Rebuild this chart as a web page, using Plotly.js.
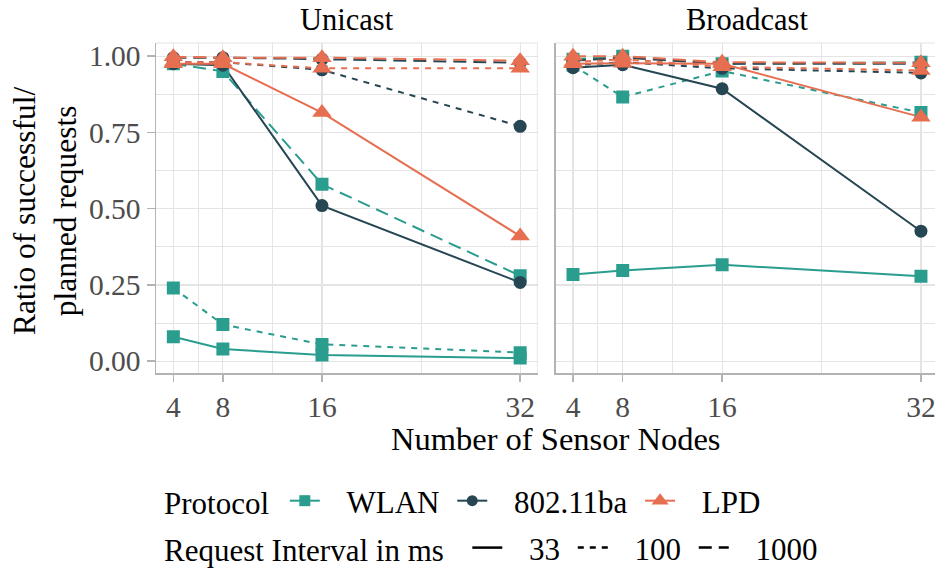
<!DOCTYPE html>
<html>
<head>
<meta charset="utf-8">
<script src="https://cdn.plot.ly/plotly-3.0.1.min.js"></script>
<style>html,body{margin:0;padding:0;background:#fff;}#chart{width:935px;height:575px;}</style>
</head>
<body>
<div id="chart"></div>
<script>
// ---- data ----
const nodes = [4, 8, 16, 32];
const xTickVals = [4, 8, 16, 32];
const yTickVals = [0, 0.25, 0.5, 0.75, 1.0];
const panels = ['Unicast', 'Broadcast'];
const protocols = ['WLAN', '802.11ba', 'LPD'];
const intervals = ['33', '100', '1000'];

// Unicast
const uniWLAN33    = [0.08, 0.04, 0.02, 0.01];
const uniWLAN100   = [0.24, 0.12, 0.055, 0.028];
const uniWLAN1000  = [0.975, 0.95, 0.58, 0.28];
const uni80233     = [0.975, 0.97, 0.51, 0.258];
const uni802100    = [0.98, 0.98, 0.955, 0.77];
const uni8021000   = [0.995, 0.995, 0.99, 0.978];
const uniLPD33     = [0.975, 0.975, 0.815, 0.41];
const uniLPD100    = [0.98, 0.98, 0.96, 0.96];
const uniLPD1000   = [0.998, 0.995, 0.995, 0.985];
// Broadcast
const bcWLAN33     = [0.284, 0.297, 0.316, 0.278];
const bcWLAN100    = [0.97, 0.866, 0.951, 0.815];
const bcWLAN1000   = [0.99, 1.0, 0.975, 0.98];
const bc80233      = [0.962, 0.972, 0.893, 0.426];
const bc802100     = [0.97, 0.98, 0.96, 0.945];
const bc8021000    = [0.985, 0.995, 0.975, 0.975];
const bcLPD33      = [0.975, 0.977, 0.975, 0.80];
const bcLPD100     = [0.98, 0.99, 0.965, 0.953];
const bcLPD1000    = [1.0, 1.0, 0.98, 0.978];

const seriesTable = {
  Unicast: {
    'WLAN': {'33': uniWLAN33, '100': uniWLAN100, '1000': uniWLAN1000},
    '802.11ba': {'33': uni80233, '100': uni802100, '1000': uni8021000},
    'LPD': {'33': uniLPD33, '100': uniLPD100, '1000': uniLPD1000}
  },
  Broadcast: {
    'WLAN': {'33': bcWLAN33, '100': bcWLAN100, '1000': bcWLAN1000},
    '802.11ba': {'33': bc80233, '100': bc802100, '1000': bc8021000},
    'LPD': {'33': bcLPD33, '100': bcLPD100, '1000': bcLPD1000}
  }
};

// ---- styles ----
const colors = {'WLAN': '#2A9D8F', '802.11ba': '#264653', 'LPD': '#E76F51'};
const symbols = {'WLAN': 'square', '802.11ba': 'circle', 'LPD': 'triangle-up'};
const msize = {'WLAN': 13, '802.11ba': 13, 'LPD': 17};
const dashes = {'33': 'solid', '100': '6px,6px', '1000': '13px,7px'};
const axisRef = {Unicast: ['x', 'y'], Broadcast: ['x2', 'y2']};
const LEAD = '\u00a0\u00a0\u2009';
const TRAIL = '\u00a0';

const FONT = 'Liberation Serif, Times New Roman, serif';
const traces = [];
// lines first
panels.forEach(p => protocols.forEach(pr => intervals.forEach(iv => {
  traces.push({
    x: nodes, y: seriesTable[p][pr][iv], xaxis: axisRef[p][0], yaxis: axisRef[p][1],
    mode: 'lines', type: 'scatter', showlegend: false, hoverinfo: 'skip',
    line: {color: colors[pr], width: 2, dash: dashes[iv]}
  });
})));
// then points
panels.forEach(p => protocols.forEach(pr => intervals.forEach(iv => {
  traces.push({
    x: nodes, y: seriesTable[p][pr][iv], xaxis: axisRef[p][0], yaxis: axisRef[p][1],
    mode: 'markers', type: 'scatter', showlegend: false,
    marker: {color: colors[pr], symbol: symbols[pr], size: msize[pr], line: {width: 0}}
  });
})));
// legend entries
protocols.forEach(pr => traces.push({
  x: [null], y: [null], mode: 'lines+markers', type: 'scatter', name: LEAD + pr + TRAIL, legend: 'legend',
  line: {color: colors[pr], width: 2}, marker: {color: colors[pr], symbol: symbols[pr], size: msize[pr] - 2}
}));
intervals.forEach(iv => traces.push({
  x: [null], y: [null], mode: 'lines', type: 'scatter', name: LEAD + iv + TRAIL, legend: 'legend2',
  line: {color: '#000000', width: 2.5, dash: dashes[iv]}
}));

const W = 935, H = 575;
const px = v => v / W, py = v => (H - v) / H;
const yDomain = [py(382), py(44)];
const yRange = [-0.040, 1.043];

const gridCol = '#e4e4e4';
const axLineCol = '#b3b3b3';
const TICKFONT = {family: FONT, size: 29.5, color: '#4d4d4d'};
function xAxis(domain, range) {
  return {
    domain: domain, range: range, tickmode: 'array', tickvals: xTickVals,
    showgrid: true, gridcolor: gridCol, gridwidth: 1.2, zeroline: false,
    showline: true, linecolor: axLineCol, linewidth: 1.5,
    ticks: 'outside', ticklen: 7, tickcolor: axLineCol, tickwidth: 1.5,
    tickfont: TICKFONT, ticklabeloverflow: 'allow',
    minor: {tickmode: 'array', tickvals: [6, 12, 24], showgrid: true, gridcolor: gridCol, gridwidth: 1, ticks: ''},
    automargin: false, fixedrange: true
  };
}
function yAxis(anchor, showLabels) {
  return {
    domain: yDomain, range: yRange, anchor: anchor, tickmode: 'array', tickvals: yTickVals,
    tickformat: '.2f', showticklabels: showLabels,
    showgrid: true, gridcolor: gridCol, gridwidth: 1.2, zeroline: false,
    showline: true, linecolor: axLineCol, linewidth: 1.5,
    ticks: showLabels ? 'outside' : '', ticklen: 8, tickcolor: axLineCol, tickwidth: 1.5,
    tickfont: TICKFONT, ticklabeloverflow: 'allow',
    minor: {tickmode: 'array', tickvals: [0.125, 0.375, 0.625, 0.875], showgrid: true, gridcolor: gridCol, gridwidth: 1, ticks: ''},
    automargin: false, fixedrange: true
  };
}

const LEGFONT = {family: FONT, size: 31, color: '#000'};
const layout = {
  width: W, height: H, margin: {l: 0, r: 0, t: 0, b: 0},
  paper_bgcolor: '#ffffff', plot_bgcolor: '#ffffff',
  font: {family: FONT, size: 30, color: '#000000'},
  xaxis: xAxis([px(156), px(537.5)], [2.6, 33.4]),
  xaxis2: Object.assign(xAxis([px(555.6), 1], [2.6, 33.13]), {anchor: 'y2'}),
  yaxis: yAxis('x', true),
  yaxis2: Object.assign(yAxis('x2', false), {matches: 'y'}),
  showlegend: true,
  legend: {
    orientation: 'h', x: px(162), y: py(485), xanchor: 'left', yanchor: 'top',
    title: {text: 'Protocol\u00a0', side: 'left', font: LEGFONT},
    font: LEGFONT, bgcolor: 'rgba(0,0,0,0)', itemclick: false
  },
  legend2: {
    orientation: 'h', x: px(162), y: py(533), xanchor: 'left', yanchor: 'top',
    title: {text: 'Request Interval in ms\u00a0\u00a0', side: 'left', font: LEGFONT},
    font: LEGFONT, bgcolor: 'rgba(0,0,0,0)', itemclick: false
  },
  shapes: [
    {type: 'line', xref: 'x', yref: 'paper', x0: 33.4, x1: 33.4, y0: yDomain[0], y1: yDomain[1], line: {color: '#d9d9d9', width: 1.2}},
    {type: 'line', xref: 'paper', yref: 'paper', x0: px(156), x1: px(537.5), y0: yDomain[1], y1: yDomain[1], line: {color: '#e4e4e4', width: 1.2}},
    {type: 'line', xref: 'paper', yref: 'paper', x0: px(555.6), x1: 1, y0: yDomain[1], y1: yDomain[1], line: {color: '#e4e4e4', width: 1.2}}
  ],
  annotations: [
    {text: 'Unicast', xref: 'paper', yref: 'paper', x: px(347), y: py(20), xanchor: 'center', yanchor: 'middle', showarrow: false, font: {family: FONT, size: 30.5}},
    {text: 'Broadcast', xref: 'paper', yref: 'paper', x: px(747), y: py(20), xanchor: 'center', yanchor: 'middle', showarrow: false, font: {family: FONT, size: 30.5}},
    {text: 'Number of Sensor Nodes', xref: 'paper', yref: 'paper', x: px(555), y: py(449), xanchor: 'center', yanchor: 'middle', showarrow: false, font: {family: FONT, size: 32.5}},
    {text: 'Ratio of successful/<br>planned requests', xref: 'paper', yref: 'paper', x: px(45), y: py(216), xanchor: 'center', yanchor: 'middle', textangle: -90, showarrow: false, font: {family: FONT, size: 31.5}}
  ]
};

Plotly.newPlot('chart', traces, layout, {displayModeBar: false, staticPlot: true});
</script>
</body>
</html>
